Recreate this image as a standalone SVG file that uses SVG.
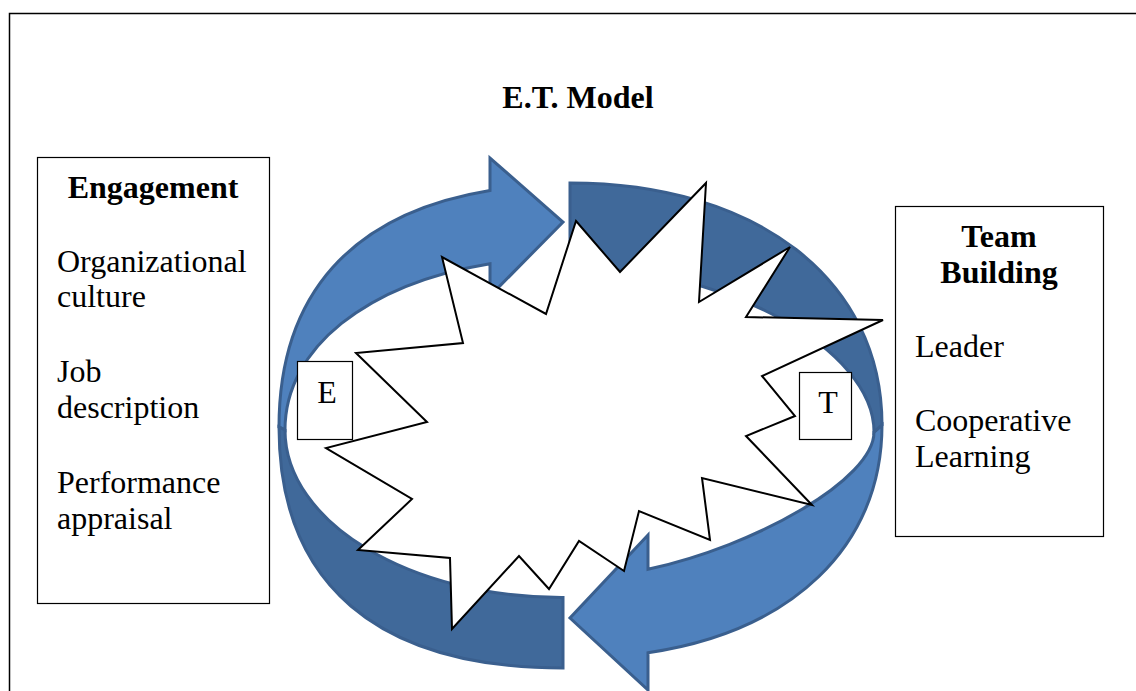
<svg xmlns="http://www.w3.org/2000/svg" width="1136" height="691" viewBox="0 0 1136 691">
<style>
.frame{fill:none;stroke:#000;stroke-width:1.5}
.box{fill:#fff;stroke:#000;stroke-width:1.2}
.light{fill:#4F81BD;stroke:#3A5F8E;stroke-width:3;stroke-linejoin:miter}
.dark{fill:#40699A;stroke:#3A5F8E;stroke-width:3;stroke-linejoin:miter}
.burst{fill:#fff;stroke:#000;stroke-width:2;stroke-linejoin:miter}
.t{font-family:"Liberation Serif","Times New Roman",serif;font-size:32px;fill:#000}
.b{font-weight:bold}
.c{text-anchor:middle}
</style>
<rect width="1136" height="691" fill="#fff"/>
<rect class="frame" x="9.5" y="13.5" width="1200" height="800"/>
<text class="t b c" x="578" y="108">E.T. Model</text>
<g id="connectors">
<path id="arrow-e" class="light" d="M 490 190.4 L 490 158 L 563 222 L 490 296 L 490 263.65 C 367.3 283.75, 285 347.55, 285 430 L 279 427 C 279 294.1, 352.2 212.9, 490 190.4 Z"/>
<path id="arrow-e-tail" class="dark" d="M 279 427 C 279 583, 376 668, 563 668 L 563 597.5 C 410 598, 285 522.4, 285 430 Z"/>
<path id="arrow-t" class="light" d="M 882 425 C 882 547.1, 791 631.65, 648 652.8 L 648 690 L 570 618 L 648 535 L 648 569.3 C 756.3 545.8, 874 479.3, 874 432 Z"/>
<path id="arrow-t-tail" class="dark" d="M 570 183 C 757 183, 882 279.8, 882 425 L 874 432 C 874 348.5, 724.5 267, 570 267 Z"/>
</g>
<g id="burst">
<polygon class="burst" points="576,221 620,272 706,183 699,302 790,247 746,317 883,320 762,376 795,416 746,436 812,505 702,478 710,540 639,511 624,571 579,541 549,589 519,556 452,629 450,558 358,550 412,499 326,448 427,422 356,353 463,343 442,257 546,314"/>
</g>
<g id="node-e">
<rect class="box" x="297.5" y="361.5" width="55" height="78"/>
<text class="t c" x="327" y="403">E</text>
</g>
<g id="node-t">
<rect class="box" x="799.5" y="372.5" width="52" height="67"/>
<text class="t c" x="828" y="413">T</text>
</g>
<g id="engagement">
<rect class="box" x="37.5" y="157.5" width="232" height="446"/>
<text class="t b c" x="153" y="198">Engagement</text>
<text class="t" x="57" y="272">Organizational</text>
<text class="t" x="57" y="307">culture</text>
<text class="t" x="57" y="382">Job</text>
<text class="t" x="57" y="418">description</text>
<text class="t" x="57" y="493">Performance</text>
<text class="t" x="57" y="529">appraisal</text>
</g>
<g id="team-building">
<rect class="box" x="895.5" y="206.5" width="208" height="330"/>
<text class="t b c" x="999" y="247">Team</text>
<text class="t b c" x="999" y="283">Building</text>
<text class="t" x="915" y="357">Leader</text>
<text class="t" x="915" y="431">Cooperative</text>
<text class="t" x="915" y="467">Learning</text>
</g>
</svg>
